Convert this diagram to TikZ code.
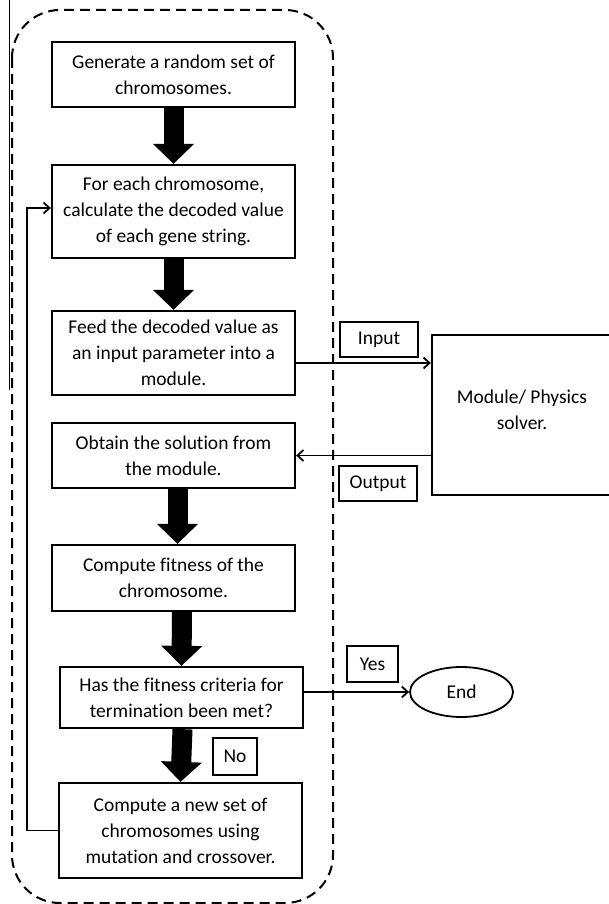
\documentclass[tikz,border=0pt]{standalone}
\usepackage{fontspec}
\setmainfont[Ligatures=CommonOff]{Carlito}
\usetikzlibrary{arrows.meta,shapes.geometric}
\begin{document}
\begin{tikzpicture}[x=1pt,y=-1pt,
  every node/.style={font=\fontsize{19.5}{26}\selectfont, align=center, inner sep=0pt},
  stepbox/.style={draw, line width=2.3pt, minimum width=243pt},
  labelbox/.style={draw, line width=1.4pt},
  bigarrow/.style={line width=20pt, -{Triangle[width=40pt,length=20pt]}},
  thinarrow/.style={line width=1.8pt, -{Straight Barb[length=6pt,width=11pt,line width=1.8pt]}},
  frame/.style={line width=2pt, dash pattern=on 10pt off 6pt, rounded corners=48pt}]
\useasboundingbox (0,0) rectangle (608,904);
\fill[white] (0,0) rectangle (608,904);
% outer dashed frame
\draw[frame] (12,10) rectangle (333,903);
\draw[line width=0.9pt] (9.5,0) -- (9.5,390);
% steps
\node[stepbox, minimum height=65pt] (b1) at (173.5,74.5) {Generate a random set of\\chromosomes.};
\node[stepbox, minimum height=93pt] (b2) at (173.5,211.5) {For each chromosome,\\calculate the decoded value\\of each gene string.};
\node[stepbox, minimum height=84pt] (b3) at (173.5,353) {Feed the decoded value as\\an input parameter into a\\module.};
\node[stepbox, minimum height=65pt] (b4) at (173.5,455.5) {Obtain the solution from\\the module.};
\node[stepbox, minimum height=66pt] (b5) at (173.5,578) {Compute fitness of the\\chromosome.};
\node[stepbox, minimum height=61pt] (b6) at (181.5,697.5) {Has the fitness criteria for\\termination been met?};
\node[stepbox, minimum height=95pt] (b7) at (180.5,830.5) {Compute a new set of\\chromosomes using\\mutation and crossover.};
% module
\node[draw, line width=2.3pt, minimum width=180pt, minimum height=160pt] (mod) at (522,415) {Module/ Physics\\solver.\\[-16pt]\mbox{}};
\node[draw, line width=1.8pt, ellipse, minimum width=103pt, minimum height=50pt] (end) at (461.5,692) {End};
% labels
\node[labelbox, minimum width=78pt, minimum height=35pt] (lin) at (379,339.5) {Input};
\node[labelbox, minimum width=78pt, minimum height=35pt] (lout) at (378,483.5) {Output};
\node[labelbox, minimum width=51pt, minimum height=36pt] (lyes) at (372.5,664) {Yes};
\node[labelbox, minimum width=44pt, minimum height=37pt] (lno) at (235,756.5) {No};
% big arrows
\draw[bigarrow] (b1.south) -- (b2.north);
\draw[bigarrow] (b2.south) -- (b3.north);
\draw[bigarrow] ([xshift=4pt]b4.south) -- ([xshift=4pt]b5.north);
\draw[bigarrow] ([xshift=8.5pt]b5.south) -- (b6.north);
\draw[bigarrow] ([xshift=1pt]b6.south) -- (b7.north);
% thin arrows
\draw[thinarrow] ([yshift=-10pt]b3.east) -- ([yshift=-10pt]b3.east -| mod.west);
\draw[thinarrow] (mod.west |- b4.east) -- (b4.east);
\draw[thinarrow] (b6.east |- end.west) -- (end.west);
\coordinate (lp) at (27,830.5);
\draw[thinarrow] (b7.west) -- (b7.west -| lp) |- ([yshift=3.5pt]b2.west);
\end{tikzpicture}
\end{document}
